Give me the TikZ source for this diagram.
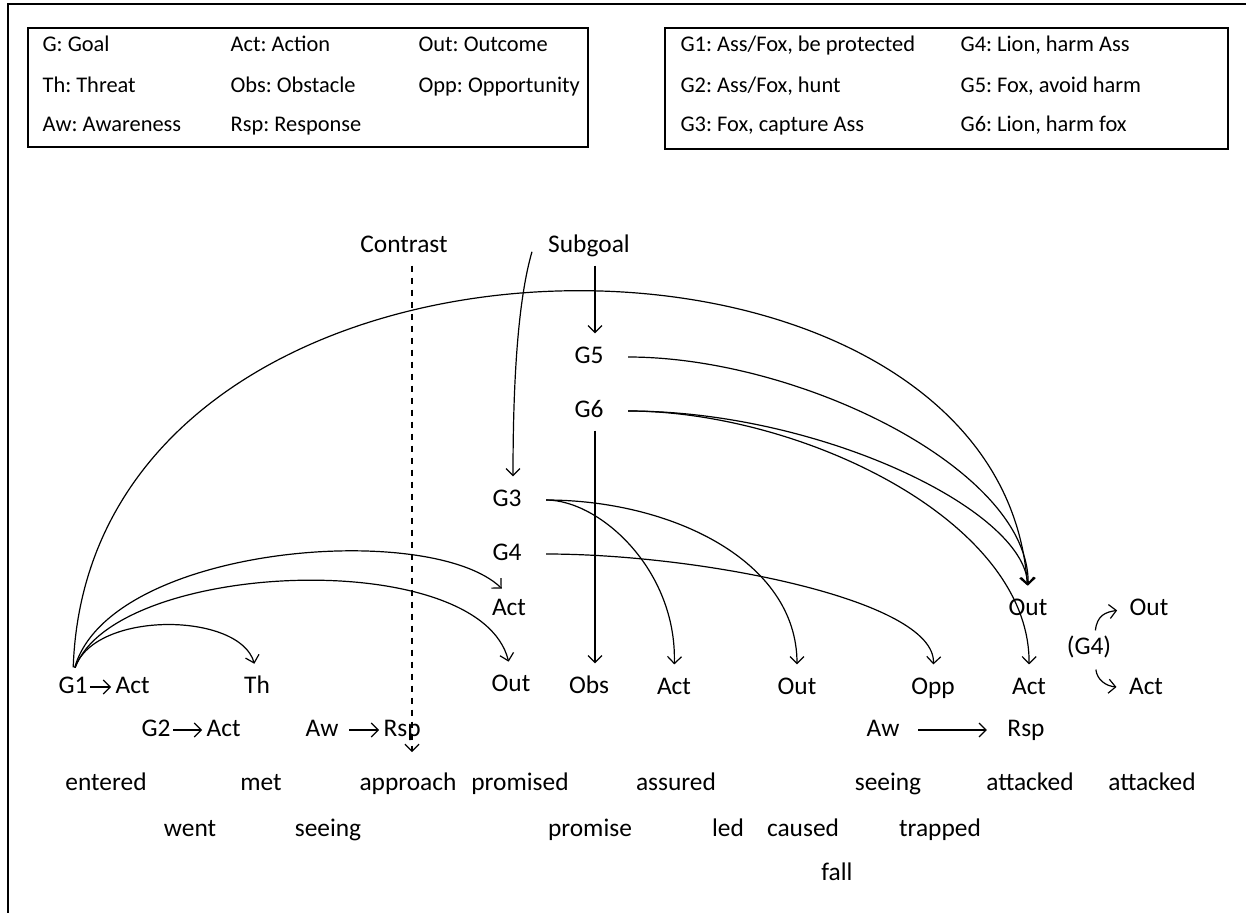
\documentclass[tikz,border=0pt]{standalone}
\usepackage{fontspec}
\setmainfont{Carlito}
\usetikzlibrary{arrows.meta,positioning}
\frenchspacing

\begin{document}
\begin{tikzpicture}[->,>={Straight Barb[length=3.5pt,width=7pt]},shorten >=1pt,semithick,
                    x=0.5pt,y=0.5pt,
                    every node/.style={font=\fontsize{12.7}{15}\selectfont,inner sep=1pt,
                                       text height=8.5pt,text depth=2.5pt},
                    keytext/.style={anchor=west,font=\fontsize{11.2}{13}\selectfont},
                    linkarc/.style={shorten <=3pt,shorten >=5pt},
                    goalarc/.style={shorten <=11pt,shorten >=5pt}]

        \useasboundingbox (0,0) rectangle (1246,-915);
        \draw[-,line width=1pt] (1246,-4) -- (8,-4) -- (8,-915);

        % legends
        \draw[-,line width=0.9pt] (28,-28) rectangle (588,-147);
        \node[keytext] (kg)   at (40,-46)  {G: Goal};
        \node[keytext] (kth)  at (40,-86)  {Th: Threat};
        \node[keytext] (kaw)  at (40,-126) {Aw: Awareness};
        \node[keytext] (kact) at (228,-46)  {Act: Action};
        \node[keytext] (kobs) at (228,-86)  {Obs: Obstacle};
        \node[keytext] (krsp) at (228,-126) {Rsp: Response};
        \node[keytext] (kout) at (416,-46)  {Out: Outcome};
        \node[keytext] (kopp) at (416,-86)  {Opp: Opportunity};

        \draw[-,line width=0.9pt] (665,-28) rectangle (1228,-149);
        \node[keytext] (kg1) at (678,-46)  {G1: Ass/Fox, be protected};
        \node[keytext] (kg2) at (678,-86)  {G2: Ass/Fox, hunt};
        \node[keytext] (kg3) at (678,-126) {G3: Fox, capture Ass};
        \node[keytext] (kg4) at (958,-46)  {G4: Lion, harm Ass};
        \node[keytext] (kg5) at (958,-86)  {G5: Fox, avoid harm};
        \node[keytext] (kg6) at (958,-126) {G6: Lion, harm fox};

        % goals and units
        \node (contrast) at (404,-246) {Contrast};
        \node (subgoal) at (589,-246) {Subgoal};
        \node (g5) at (589,-357) {G5};
        \node (g6) at (589,-411) {G6};
        \node (g3) at (507,-500) {G3};
        \node (g4) at (507,-554) {G4};
        \node (actg) at (509,-609) {Act};
        \node (outg) at (511,-685) {Out};
        \node (obs) at (589,-687) {Obs};
        \node (actf) at (674,-688) {Act};
        \node (outf) at (797,-688) {Out};
        \node (opp) at (933,-688) {Opp};
        \node (outl) at (1028,-609) {Out};
        \node (actl) at (1029,-688) {Act};
        \node (gfour) at (1089,-648) {(G4)};
        \node (outr) at (1149,-609) {Out};
        \node (actr) at (1146,-688) {Act};
        \node (awl) at (883,-730) {Aw};
        \node (rspl) at (1026,-730) {Rsp};

        \node (g1) at (73,-687) {G1};
        \node (act1) [right=11.5pt of g1] {Act};
        \node (th) at (257,-687) {Th};
        \node (g2) at (156,-730) {G2};
        \node (act2) [right=15.5pt of g2] {Act};
        \node (aw) at (322,-730) {Aw};
        \node (rsp) [right=20pt of aw] {Rsp};
        \coordinate (cend) at (412,-762);

        % story words
        \node (w1) at (106,-784) {entered};
        \node (w2) at (261,-784) {met};
        \node (w3) at (408,-784) {approach};
        \node (w4) at (520,-784) {promised};
        \node (w5) at (676,-784) {assured};
        \node (w6) at (888,-784) {seeing};
        \node (w7) at (1030,-784) {attacked};
        \node (w8) at (1152,-784) {attacked};
        \node (w9) at (190,-830) {went};
        \node (w10) at (328,-830) {seeing};
        \node (w11) at (590,-830) {promise};
        \node (w12) at (728,-830) {led};
        \node (w13) at (803,-830) {caused};
        \node (w14) at (940,-830) {trapped};
        \node (w15) at (837,-874) {fall};

        \path (g1) edge (act1)
              (g2) edge (act2)
              (aw) edge[shorten <=4pt] (rsp)
              (awl) edge[shorten <=8pt,shorten >=9pt] (rspl);

        % links from G1
        \draw[linkarc] (g1.north) .. controls (95,-610) and (240,-612) .. (th.north);
        \draw[linkarc] (g1.north) .. controls (115,-560) and (480,-545) .. (outg.north);
        \draw[linkarc] (g1.north) .. controls (110,-545) and (430,-520) .. (actg.north);
        \draw[linkarc] (g1.north) .. controls (90,-180) and (1000,-180) .. (outl.north);

        % subgoals
        \draw[linkarc] ([xshift=3pt]subgoal.south) -- ([xshift=3pt]g5.north);
        \draw[linkarc] ([xshift=-6pt]subgoal.west) .. controls (518,-300) and (513,-380) .. ([xshift=3pt]g3.north);
        \draw[linkarc] ([xshift=3pt]g6.south) -- ([xshift=3pt]obs.north);
        \draw[linkarc,dashed] ([xshift=4pt]contrast.south) -- (cend);

        \draw[goalarc] (g5.east) .. controls (800,-357) and (1030,-470) .. (outl.north);
        \draw[goalarc] (g6.east) .. controls (820,-411) and (1025,-510) .. (outl.north);
        \draw[goalarc] (g6.east) .. controls (800,-411) and (1030,-520) .. (actl.north);
        \draw[goalarc] (g3.east) .. controls (600,-500) and (677,-570) .. (actf.north);
        \draw[goalarc] (g3.east) .. controls (670,-500) and (797,-560) .. (outf.north);
        \draw[goalarc] (g4.east) .. controls (700,-554) and (936,-600) .. (opp.north);

        \draw[shorten <=2pt,shorten >=5pt] ([xshift=3pt]gfour.north) .. controls (1097,-615) and (1106,-612) .. (outr.west);
        \draw[shorten <=4pt,shorten >=5pt] ([xshift=3pt]gfour.south) .. controls (1097,-680) and (1106,-686) .. (actr.west);
\end{tikzpicture}
\end{document}
